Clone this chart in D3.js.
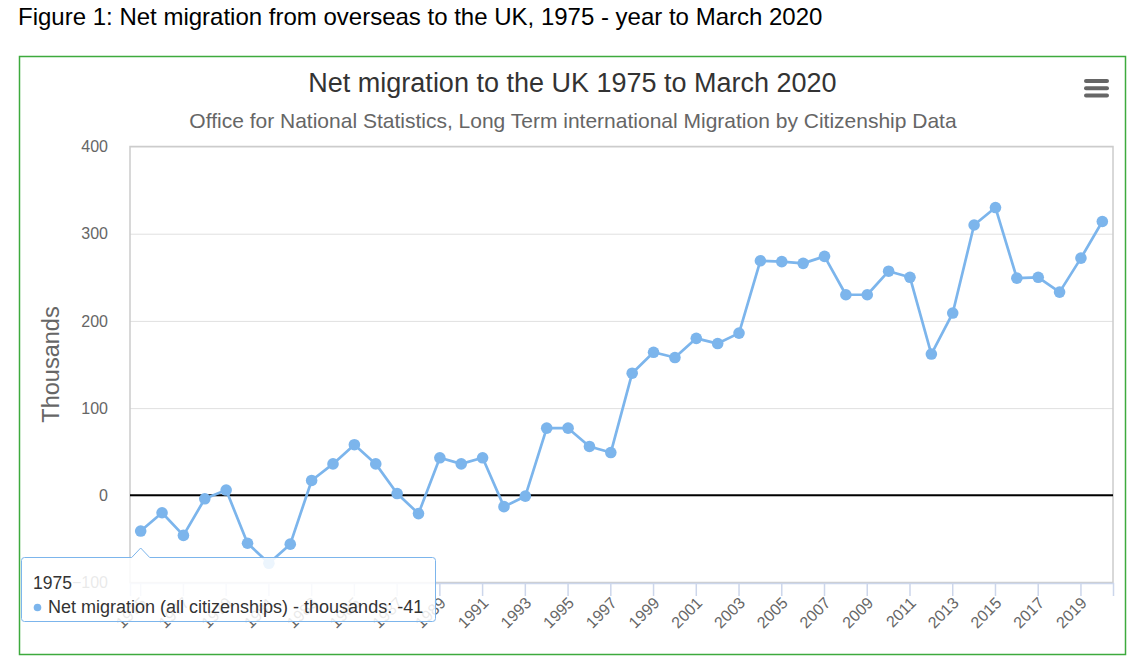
<!DOCTYPE html>
<html>
<head>
<meta charset="utf-8">
<script src="https://cdn.jsdelivr.net/npm/d3@7/dist/d3.min.js"></script>
<style>
  html, body { margin: 0; padding: 0; background: #fff; }
  svg { display: block; font-family: "Liberation Sans", Arial, sans-serif; }
</style>
</head>
<body>
<svg id="chart" width="1136" height="668"></svg>
<script>
const years = ["1975","1976","1977","1978","1979","1980","1981","1982","1983","1984",
  "1985","1986","1987","1988","1989","1990","1991","1992","1993","1994",
  "1995","1996","1997","1998","1999","2000","2001","2002","2003","2004",
  "2005","2006","2007","2008","2009","2010","2011","2012","2013","2014",
  "2015","2016","2017","2018","2019","2020"];
const netMigration = [-41,-20,-46,-4,6,-55,-78,-56,17,36,
  58,36,2,-21,43,36,43,-13,-1,77,
  77,56,49,140,164,158,180,174,186,269,
  268,266,274,230,230,257,250,162,209,310,
  330,249,250,233,272,314];
const xTickLabels = ["1975","1977","1979","1981","1983","1985","1987","1989","1991","1993",
  "1995","1997","1999","2001","2003","2005","2007","2009","2011","2013","2015","2017","2019"];
const yTicks = [-100, 0, 100, 200, 300, 400];

const figureTitle = "Figure 1: Net migration from overseas to the UK, 1975 - year to March 2020";
const chartTitle = "Net migration to the UK 1975 to March 2020";
const chartSubtitle = "Office for National Statistics, Long Term international Migration by Citizenship Data";
const yAxisTitle = "Thousands";
const seriesName = "Net migration (all citizenships) - thousands";

const svg = d3.select("#chart");
const plot = { left: 130, right: 1113, top: 146.5, bottom: 582.5 };

const x = d3.scaleBand().domain(years).range([plot.left, plot.right]);
const cx = d => x(d) + x.bandwidth() / 2;
const y = d3.scaleLinear().domain([-100, 400]).range([plot.bottom, plot.top]);

// figure title
svg.append("text").attr("x", 18).attr("y", 25)
  .attr("font-size", 24).attr("fill", "#000").text(figureTitle);

// green frame
svg.append("rect").attr("x", 19.5).attr("y", 56.5).attr("width", 1106).attr("height", 598)
  .attr("fill", "none").attr("stroke", "#3daa3d").attr("stroke-width", 1.5);

// titles
svg.append("text").attr("x", 572.5).attr("y", 91.5).attr("text-anchor", "middle")
  .attr("font-size", 27).attr("fill", "#333").text(chartTitle);
svg.append("text").attr("x", 573).attr("y", 127.5).attr("text-anchor", "middle")
  .attr("font-size", 21).attr("fill", "#666").text(chartSubtitle);

// hamburger
[79, 86.3, 93.5].forEach(yy => {
  svg.append("rect").attr("x", 1084).attr("y", yy).attr("width", 25).attr("height", 4)
    .attr("rx", 2).attr("fill", "#666");
});

// gridlines
const gy = d3.axisLeft(y).tickValues(yTicks).tickSize(-(plot.right - plot.left)).tickFormat("");
svg.append("g").attr("transform", `translate(${plot.left},0)`).call(gy)
  .call(g => g.select(".domain").remove())
  .call(g => g.selectAll("line").attr("stroke", "#e0e0e0").attr("stroke-width", 1));

// plot border
svg.append("rect").attr("x", plot.left).attr("y", plot.top)
  .attr("width", plot.right - plot.left).attr("height", plot.bottom - plot.top)
  .attr("fill", "none").attr("stroke", "#cccccc").attr("stroke-width", 1.5);

// y axis labels
const ya = d3.axisLeft(y).tickValues(yTicks).tickSize(0).tickPadding(0);
svg.append("g").attr("transform", `translate(108,0)`).call(ya)
  .call(g => g.select(".domain").remove())
  .call(g => g.selectAll("text").attr("font-family", "Liberation Sans, Arial, sans-serif")
     .attr("font-size", 16).attr("fill", "#666"));

// y axis title
svg.append("text").attr("transform", `translate(59,${(plot.top + plot.bottom) / 2}) rotate(-90)`)
  .attr("text-anchor", "middle").attr("font-size", 23.5).attr("fill", "#666").text(yAxisTitle);

// x axis
const xa = d3.axisBottom(x).tickValues(xTickLabels).tickSize(13).tickPadding(0);
const xg = svg.append("g").attr("transform", `translate(0,${plot.bottom + 0.5})`).call(xa);
xg.select(".domain").attr("stroke", "#ccd6eb").attr("stroke-width", 1.5);
xg.selectAll(".tick line").attr("stroke", "#ccd6eb").attr("stroke-width", 1.5);
xg.selectAll(".tick text")
  .attr("font-family", "Liberation Sans, Arial, sans-serif")
  .attr("font-size", 16).attr("fill", "#666")
  .attr("text-anchor", "end")
  .attr("transform", "translate(3,17) rotate(-45)")
  .attr("y", 0).attr("dy", "0.35em");

// zero line
svg.append("line").attr("x1", plot.left).attr("x2", plot.right)
  .attr("y1", y(0)).attr("y2", y(0)).attr("stroke", "#000").attr("stroke-width", 2);

// series line
const line = d3.line().x((d, i) => cx(years[i])).y(d => y(d));
svg.append("path").datum(netMigration).attr("d", line)
  .attr("fill", "none").attr("stroke", "#7cb5ec").attr("stroke-width", 2.7)
  .attr("stroke-linejoin", "round").attr("stroke-linecap", "round");
svg.append("g").selectAll("circle").data(netMigration).join("circle")
  .attr("cx", (d, i) => cx(years[i])).attr("cy", d => y(d)).attr("r", 5.8)
  .attr("fill", "#7cb5ec");

// tooltip for 1975
const tipX = cx(years[0]);
const tip = svg.append("g");
const bx = 21.5, by = 557.5, bw = 414, bh = 64, r = 3;
const tipPath = `M${bx + r},${by} L${tipX - 9},${by} L${tipX},${by - 9.5} L${tipX + 9},${by} ` +
  `L${bx + bw - r},${by} Q${bx + bw},${by} ${bx + bw},${by + r} L${bx + bw},${by + bh - r} ` +
  `Q${bx + bw},${by + bh} ${bx + bw - r},${by + bh} L${bx + r},${by + bh} Q${bx},${by + bh} ${bx},${by + bh - r} ` +
  `L${bx},${by + r} Q${bx},${by} ${bx + r},${by} Z`;
tip.append("path").attr("d", tipPath).attr("fill", "rgba(255,255,255,0.86)")
  .attr("stroke", "#7cb5ec").attr("stroke-width", 1);
tip.append("text").attr("x", 33).attr("y", 589).attr("font-size", 17.5).attr("fill", "#333")
  .text(years[0]);
tip.append("circle").attr("cx", 37.5).attr("cy", 607.5).attr("r", 3.8).attr("fill", "#7cb5ec");
tip.append("text").attr("x", 48).attr("y", 613).attr("font-size", 18).attr("fill", "#333")
  .text(`${seriesName}: ${netMigration[0]}`);
</script>
</body>
</html>
